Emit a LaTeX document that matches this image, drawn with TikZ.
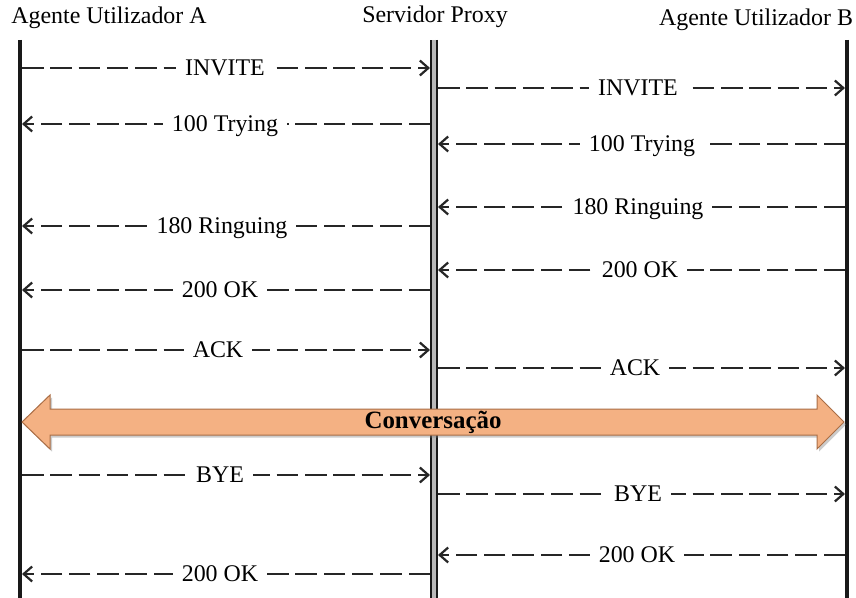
\documentclass[tikz,border=0pt]{standalone}
\usepackage{fontspec}
\setmainfont{Liberation Serif}
\usetikzlibrary{arrows.meta,shadows}
\definecolor{convofill}{RGB}{244,177,131}
\definecolor{convoline}{RGB}{170,110,70}
\newcommand\sipmsg[6]{% name, y, from x, to x, label x, text
  \coordinate (#1s) at (#3,#2);
  \coordinate (#1e) at (#4,#2);
  \draw[msg] (#1s) -- (#1e);
  \node[lbl] (#1l) at (#5,#2) {#6};
}
\begin{document}
\begin{tikzpicture}[x=1bp,y=-1bp,
  msg/.style={draw=black!85, line width=2.6bp, dash pattern=on 21.5bp off 6.8bp,
    -{Straight Barb[length=8.5bp,width=15bp,line width=2.2bp]}},
  lbl/.style={fill=white, inner xsep=9bp, inner ysep=3bp, text height=15.5bp, text depth=0bp,
    font=\fontsize{24}{26}\selectfont},
  head/.style={inner sep=0pt, font=\fontsize{24}{26}\selectfont},
  life/.style={line width=4.2bp, black!90},
  proxy/.style={line width=1.8bp, black!90, double=gray!55, double distance=3.8bp}]
\useasboundingbox (0,0) rectangle (856,598);
\fill[white] (0,0) rectangle (856,598);

\node[head] (hA) at (109,18) {Agente Utilizador A};
\node[head] (hP) at (435,17) {Servidor Proxy};
\node[head] (hB) at (756,20) {Agente Utilizador B};

\coordinate (Atop) at (20,40); \coordinate (Abot) at (20,598);
\coordinate (Ptop) at (434,40); \coordinate (Pbot) at (434,598);
\coordinate (Btop) at (847,40); \coordinate (Bbot) at (847,598);
\draw[life] (Atop) -- (Abot);
\draw[proxy] (Ptop) -- (Pbot);
\draw[life] (Btop) -- (Bbot);

\sipmsg{m1}{68}{22}{430}{225}{INVITE}
\sipmsg{m2}{88}{438}{845}{638}{INVITE}
\sipmsg{m3}{124}{430}{22}{225}{100 Trying}
\sipmsg{m4}{144}{845}{438}{642}{100 Trying}
\sipmsg{m5}{207}{845}{438}{638}{180 Ringuing}
\sipmsg{m6}{226}{430}{22}{222}{180 Ringuing}
\sipmsg{m7}{270}{845}{438}{640}{200 OK}
\sipmsg{m8}{290}{430}{22}{220}{200 OK}
\sipmsg{m9}{350}{22}{430}{218}{ACK}
\sipmsg{m10}{368}{438}{845}{635}{ACK}
\sipmsg{m11}{475}{22}{430}{220}{BYE}
\sipmsg{m12}{494}{438}{845}{638}{BYE}
\sipmsg{m13}{555}{845}{438}{637}{200 OK}
\sipmsg{m14}{574}{430}{22}{220}{200 OK}

\draw[fill=convofill, draw=convoline, line width=1bp,
  drop shadow={shadow xshift=2bp, shadow yshift=-2.5bp, opacity=.4}]
  (22,422) -- (50,395) -- (50,409) -- (817,409) -- (817,395) -- (844,422)
  -- (817,449) -- (817,435) -- (50,435) -- (50,449) -- cycle;
\node[inner sep=0pt, font=\fontsize{25}{27}\selectfont\bfseries] (conv) at (433,422) {Conversação};
\end{tikzpicture}
\end{document}
